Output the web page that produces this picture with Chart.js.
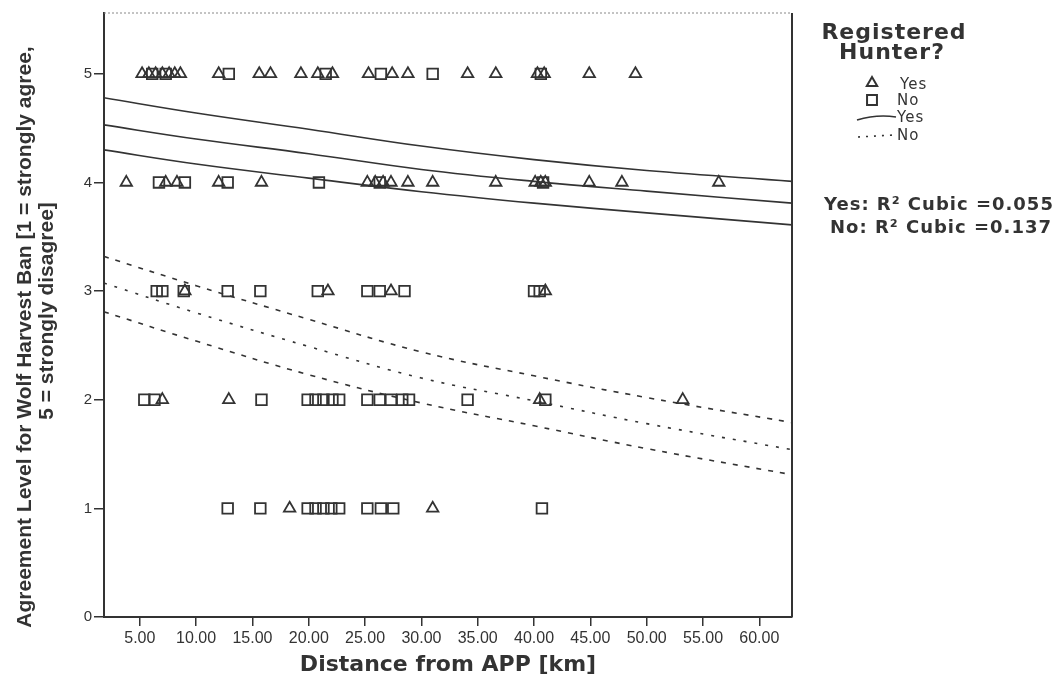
<!DOCTYPE html>
<html>
<head>
<meta charset="utf-8">
<script src="https://cdn.jsdelivr.net/npm/chart.js@4.4.1/dist/chart.umd.min.js"></script>
<style>
  html, body { margin: 0; padding: 0; background: #fff; }
  #wrap { width: 1060px; height: 682px; position: relative; }
</style>
</head>
<body>
<div id="wrap"><canvas id="wolfChart"></canvas></div>
<script>
// Datos (distancia en km, nivel de acuerdo 1-5)
var yesDistance = [
  5.2, 5.8, 6.4, 7.0, 7.6, 8.1, 8.6, 12.0, 15.6, 16.6, 19.3, 20.8, 22.1, 25.3, 27.4, 28.8, 34.1, 36.6, 40.3, 40.9, 44.9, 49.0,
  3.8, 7.3, 8.3, 12.0, 15.8, 25.2, 25.9, 26.6, 27.3, 28.8, 31.0, 36.6, 40.1, 40.6, 41.0, 44.9, 47.8, 56.4,
  9.0, 21.7, 27.3, 41.0,
  7.0, 12.9, 40.5, 53.2,
  18.3, 31.0
];
var yesLevel = [
  5, 5, 5, 5, 5, 5, 5, 5, 5, 5, 5, 5, 5, 5, 5, 5, 5, 5, 5, 5, 5, 5,
  4, 4, 4, 4, 4, 4, 4, 4, 4, 4, 4, 4, 4, 4, 4, 4, 4, 4,
  3, 3, 3, 3,
  2, 2, 2, 2,
  1, 1
];
var noDistance = [
  6.1, 7.3, 12.9, 21.5, 26.4, 31.0, 40.6,
  6.7, 9.0, 12.8, 20.9, 26.3, 40.8,
  6.5, 7.0, 8.9, 12.8, 15.7, 20.8, 25.2, 26.3, 28.5, 40.0, 40.5,
  5.4, 6.3, 15.8, 19.9, 20.6, 21.3, 22.1, 22.7, 25.2, 26.3, 27.3, 28.3, 28.9, 34.1, 41.0,
  12.8, 15.7, 19.9, 20.6, 21.3, 22.0, 22.7, 25.2, 26.4, 27.5, 40.7
];
var noLevel = [
  5, 5, 5, 5, 5, 5, 5,
  4, 4, 4, 4, 4, 4,
  3, 3, 3, 3, 3, 3, 3, 3, 3, 3, 3,
  2, 2, 2, 2, 2, 2, 2, 2, 2, 2, 2, 2, 2, 2, 2,
  1, 1, 1, 1, 1, 1, 1, 1, 1, 1, 1
];

// Curvas ajustadas (cúbica) y sus bandas
var fitDistance = [1.8, 10, 20, 30, 40, 50, 62.9];
var yesUpper = [4.78, 4.64, 4.49, 4.335, 4.21, 4.11, 4.01];
var yesFit = [4.53, 4.40, 4.265, 4.12, 4.01, 3.92, 3.81];
var yesLower = [4.30, 4.17, 4.04, 3.915, 3.81, 3.72, 3.61];
var noUpper = [3.32, 3.05, 2.74, 2.44, 2.22, 2.02, 1.79];
var noFit = [3.075, 2.80, 2.49, 2.20, 1.99, 1.78, 1.54];
var noLower = [2.81, 2.54, 2.23, 1.97, 1.76, 1.55, 1.31];

var xTicks = [5, 10, 15, 20, 25, 30, 35, 40, 45, 50, 55, 60];
var yTicks = [0, 1, 2, 3, 4, 5];

var yTitle = ["Agreement Level for Wolf Harvest Ban [1 = strongly agree,", "5 = strongly disagree]"];

var ink = "#333333";

function pairs(xs, ys) {
  return xs.map(function (x, i) {
    return { x: x, y: ys[i] };
  });
}

function fitLine(values, dash) {
  return {
    type: "line",
    data: pairs(fitDistance, values),
    borderColor: ink,
    borderWidth: 1.6,
    borderDash: dash,
    pointRadius: 0,
    tension: 0.4,
    fill: false,
  };
}

// Leyenda lateral, texto R², título del eje Y y marco del área
var sidePanel = {
  id: "sidePanel",
  afterDraw: function (chart) {
    var ctx = chart.ctx;
    var a = chart.chartArea;
    var cx = a.right + 102;
    ctx.save();

    ctx.strokeStyle = "#888";
    ctx.lineWidth = 1;
    ctx.setLineDash([2, 2]);
    ctx.beginPath();
    ctx.moveTo(a.left, a.top);
    ctx.lineTo(a.right, a.top);
    ctx.stroke();
    ctx.setLineDash([]);
    ctx.strokeStyle = ink;
    ctx.lineWidth = 2;
    ctx.beginPath();
    ctx.moveTo(a.right, a.top);
    ctx.lineTo(a.right, a.bottom);
    ctx.stroke();

    // título del eje Y (dos líneas giradas)
    ctx.fillStyle = ink;
    ctx.textAlign = "center";
    ctx.textBaseline = "middle";
    ctx.font = "bold 21px 'Liberation Sans', Arial, sans-serif";
    ctx.save();
    ctx.translate(25, (a.top + a.bottom) / 2 + 22);
    ctx.rotate(-Math.PI / 2);
    ctx.fillText(yTitle[0], 0, 0);
    ctx.restore();
    ctx.save();
    ctx.translate(47, (a.top + a.bottom) / 2 - 4);
    ctx.rotate(-Math.PI / 2);
    ctx.fillText(yTitle[1], 0, 0);
    ctx.restore();

    ctx.letterSpacing = "1px";
    ctx.font = "bold 22px 'DejaVu Sans', sans-serif";
    ctx.fillText("Registered", cx, a.top + 20);
    ctx.fillText("Hunter?", cx - 2, a.top + 40);

    ctx.textAlign = "left";
    ctx.font = "15px 'DejaVu Sans', sans-serif";
    ctx.fillStyle = "transparent";
    ctx.strokeStyle = ink;
    Chart.helpers.drawPoint(ctx, { pointStyle: "triangle", radius: 6, borderWidth: 1.6, rotation: 0 }, a.right + 80, a.top + 70);
    Chart.helpers.drawPoint(ctx, { pointStyle: "rect", radius: 7, borderWidth: 1.6, rotation: 0 }, a.right + 80, a.top + 87);
    ctx.fillStyle = ink;
    ctx.fillText("Yes", a.right + 108, a.top + 72);
    ctx.fillText("No", a.right + 105, a.top + 88);

    ctx.lineWidth = 1.6;
    ctx.beginPath();
    ctx.moveTo(a.right + 65, a.top + 107);
    ctx.quadraticCurveTo(a.right + 85, a.top + 101, a.right + 104, a.top + 104);
    ctx.stroke();
    ctx.setLineDash([2, 6]);
    ctx.beginPath();
    ctx.moveTo(a.right + 66, a.top + 124);
    ctx.lineTo(a.right + 102, a.top + 122);
    ctx.stroke();
    ctx.setLineDash([]);
    ctx.fillText("Yes", a.right + 105, a.top + 105);
    ctx.fillText("No", a.right + 105, a.top + 123);

    ctx.textAlign = "center";
    ctx.font = "bold 18px 'DejaVu Sans', sans-serif";
    ctx.fillText("Yes: R\u00B2 Cubic =0.055", cx + 45, a.top + 192);
    ctx.fillText("No: R\u00B2 Cubic =0.137", cx + 47, a.top + 215);
    ctx.restore();
  },
};

var ctx = document.getElementById("wolfChart").getContext("2d");
var wolfChart = new Chart(ctx, {
  type: "scatter",
  data: {
    datasets: [
      {
        label: "Yes",
        data: pairs(yesDistance, yesLevel),
        pointStyle: "triangle",
        pointRadius: 6.6,
        borderColor: ink,
        borderWidth: 1.8,
        backgroundColor: "rgba(255,255,255,0)",
      },
      {
        label: "No",
        data: pairs(noDistance, noLevel),
        pointStyle: "rect",
        pointRadius: 7.5,
        borderColor: ink,
        borderWidth: 1.8,
        backgroundColor: "rgba(255,255,255,0)",
      },
      fitLine(yesUpper, []),
      fitLine(yesFit, []),
      fitLine(yesLower, []),
      fitLine(noUpper, [5, 7]),
      fitLine(noFit, [3, 8]),
      fitLine(noLower, [5, 7]),
    ],
  },
  options: {
    responsive: true,
    maintainAspectRatio: false,
    animation: false,
    layout: {
      padding: { left: 0, right: 268, top: 13, bottom: 0 },
    },
    scales: {
      x: {
        type: "linear",
        min: 1.82,
        max: 62.9,
        afterFit: function (scale) {
          scale.height = 65;
        },
        afterBuildTicks: function (scale) {
          scale.ticks = xTicks.map(function (v) {
            return { value: v };
          });
        },
        border: { display: true, color: ink, width: 2 },
        grid: { drawOnChartArea: false, color: ink, lineWidth: 1.5, tickLength: 9 },
        ticks: {
          padding: 3,
          color: ink,
          font: { family: "'Liberation Sans', Arial, sans-serif", size: 16 },
          callback: function (value) {
            return Number(value).toFixed(2);
          },
        },
        title: {
          display: true,
          text: "Distance from APP [km]",
          color: ink,
          font: { family: "'DejaVu Sans', sans-serif", size: 22, weight: "bold", lineHeight: 1.2 },
          padding: { top: 0, bottom: 4 },
        },
      },
      y: {
        type: "linear",
        min: 0,
        max: 5.56,
        afterFit: function (scale) {
          scale.width = 104;
        },
        afterBuildTicks: function (scale) {
          scale.ticks = yTicks.map(function (v) {
            return { value: v };
          });
        },
        border: { display: true, color: ink, width: 2 },
        grid: { drawOnChartArea: false, color: ink, lineWidth: 1.5, tickLength: 10 },
        ticks: {
          padding: 2,
          color: ink,
          font: { family: "'Liberation Sans', Arial, sans-serif", size: 15 },
        },
      },
    },
    plugins: {
      legend: { display: false },
      tooltip: { enabled: false },
    },
  },
  plugins: [sidePanel],
});
</script>
</body>
</html>
